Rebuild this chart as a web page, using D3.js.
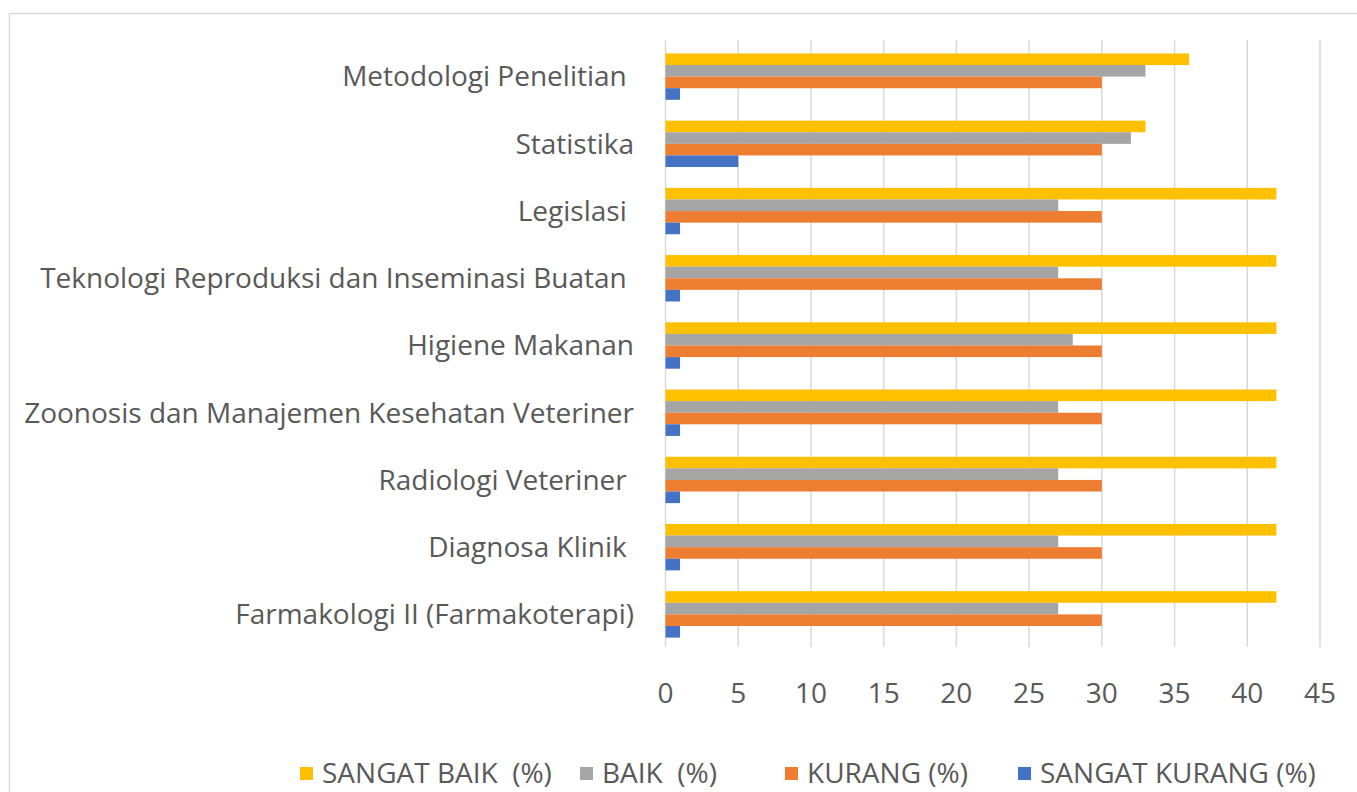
<!DOCTYPE html>
<html>
<head>
<meta charset="utf-8">
<script src="https://cdn.jsdelivr.net/npm/d3@7"></script>
<style>
  body { margin: 0; background: #fff; }
  text { font-family: "Open Sans", Lato, sans-serif; fill: #595959; white-space: pre; }
</style>
</head>
<body>
<script>
var width = 1357,
    height = 792

// data
var categories = [
  "Metodologi Penelitian ",
  "Statistika",
  "Legislasi ",
  "Teknologi Reproduksi dan Inseminasi Buatan ",
  "Higiene Makanan",
  "Zoonosis dan Manajemen Kesehatan Veteriner",
  "Radiologi Veteriner ",
  "Diagnosa Klinik ",
  "Farmakologi II (Farmakoterapi)"
];
var seriesNames = ["SANGAT BAIK  (%)", "BAIK  (%)", "KURANG (%)", "SANGAT KURANG (%)"];
var seriesColors = ["#ffc000", "#a5a5a5", "#ed7d31", "#4472c4"];
var sangatBaik   = [36, 33, 42, 42, 42, 42, 42, 42, 42];
var baik         = [33, 32, 27, 27, 28, 27, 27, 27, 27];
var kurang       = [30, 30, 30, 30, 30, 30, 30, 30, 30];
var sangatKurang = [1, 5, 1, 1, 1, 1, 1, 1, 1];
var xTicks = [0, 5, 10, 15, 20, 25, 30, 35, 40, 45];

var series = [sangatBaik, baik, kurang, sangatKurang];

var svg = d3.select("body").append("svg")
    .attr("width", width)
    .attr("height", height);

// chart area border
svg.append("rect")
    .attr("x", 9.5).attr("y", 13.5)
    .attr("width", width).attr("height", height)
    .style("fill", "none")
    .style("stroke", "#d9d9d9")
    .style("stroke-width", 1.5);

var x = d3.scaleLinear()
    .domain([0, 45])
    .range([665.5, 1320]);

var y = d3.scaleBand()
    .domain(categories)
    .range([43, 648])
    .paddingInner(0.31)
    .paddingOuter(0.155);

var ySub = d3.scaleBand()
    .domain(d3.range(series.length))
    .range([0, y.bandwidth()]);

// gridlines
svg.append("g")
  .selectAll("line")
  .data(xTicks)
  .enter()
  .append("line")
    .attr("x1", d => x(d)).attr("x2", d => x(d))
    .attr("y1", 40).attr("y2", 647)
    .style("stroke", "#d9d9d9")
    .style("stroke-width", 1.5);

// bars
var groups = svg.append("g")
  .selectAll("g")
  .data(categories)
  .enter()
  .append("g")
    .attr("transform", d => "translate(0," + y(d) + ")");

groups.selectAll("rect")
    .data((d, i) => series.map((s, j) => ({ j: j, v: s[i] })))
    .enter()
    .append("rect")
      .attr("x", x(0))
      .attr("y", d => ySub(d.j))
      .attr("width", d => x(d.v) - x(0))
      .attr("height", ySub.bandwidth())
      .style("fill", d => seriesColors[d.j]);

// category labels
svg.append("g")
  .selectAll("text")
  .data(categories)
  .enter()
  .append("text")
    .attr("x", 634)
    .attr("y", d => y(d) + y.bandwidth() / 2)
    .attr("dy", "0.35em")
    .attr("text-anchor", "end")
    .style("font-size", "28px")
    .text(d => d);

// x tick labels
svg.append("g")
  .selectAll("text")
  .data(xTicks)
  .enter()
  .append("text")
    .attr("x", d => x(d))
    .attr("y", 693)
    .attr("dy", "0.35em")
    .attr("text-anchor", "middle")
    .style("font-size", "28px")
    .text(d => d);

// legend
var legendX = [300, 580, 785, 1018];
var legend = svg.append("g")
  .selectAll("g")
  .data(seriesNames)
  .enter()
  .append("g")
    .attr("transform", (d, i) => "translate(" + legendX[i] + ",773)");

legend.append("rect")
    .attr("x", 0).attr("y", -6)
    .attr("width", 13).attr("height", 13)
    .style("fill", (d, i) => seriesColors[i]);

legend.append("text")
    .attr("x", 22)
    .attr("dy", "0.35em")
    .style("font-size", "28px")
    .text(d => d);
</script>
</body>
</html>
